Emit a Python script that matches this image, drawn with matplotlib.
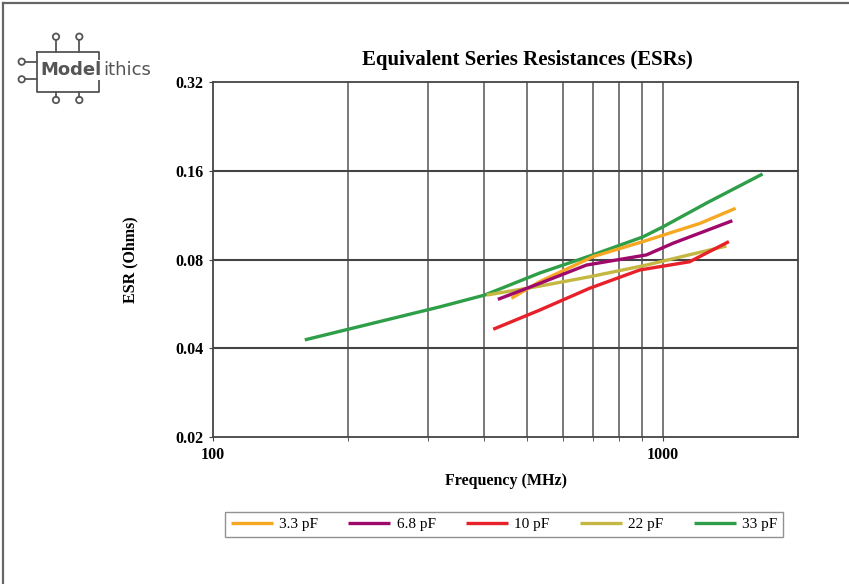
import matplotlib
matplotlib.use("Agg")
import matplotlib.pyplot as plt
from matplotlib.lines import Line2D
from matplotlib.patches import Circle
from matplotlib.ticker import FixedLocator, NullFormatter, NullLocator

# values
freq_33 = [160, 320, 402, 533, 699, 903, 1000, 1253, 1668]
esr_33 = [0.0427, 0.0553, 0.0606, 0.0720, 0.0829, 0.0954, 0.1031, 0.1244, 0.156]

freq_3p3 = [461, 533, 700, 904, 1209, 1453]
esr_3p3 = [0.0591, 0.0673, 0.0818, 0.0920, 0.1060, 0.1193]

freq_6p8 = [430, 533, 677, 920, 1054, 1429]
esr_6p8 = [0.0586, 0.0664, 0.0766, 0.0829, 0.0908, 0.1083]

freq_10 = [420, 533, 688, 889, 1148, 1404]
esr_10 = [0.0464, 0.0539, 0.0639, 0.0737, 0.0786, 0.0920]

freq_22 = [406, 533, 688, 920, 1386]
esr_22 = [0.0606, 0.0650, 0.0699, 0.0766, 0.0889]

series = [
    ("3.3 pF", freq_3p3, esr_3p3, "#F7A823"),
    ("6.8 pF", freq_6p8, esr_6p8, "#A0096C"),
    ("10 pF", freq_10, esr_10, "#E8202A"),
    ("22 pF", freq_22, esr_22, "#C4B842"),
    ("33 pF", freq_33, esr_33, "#2E9E48"),
]
draw_order = ["33 pF", "22 pF", "3.3 pF", "6.8 pF", "10 pF"]

y_ticks = [0.02, 0.04, 0.08, 0.16, 0.32]
x_grid = [200, 300, 400, 500, 600, 700, 800, 900, 1000]

serif = "Liberation Serif"
W, H = 849, 584

fig = plt.figure(figsize=(W / 100, H / 100), dpi=100)


def fx(px):
    return px / W


def fy(py):
    return 1 - py / H


ax = fig.add_axes([fx(213), fy(437), fx(798) - fx(213), fy(82) - fy(437)])
ax.set_xscale("log")
ax.set_yscale("log")
ax.set_xlim(100, 2000)
ax.set_ylim(0.02, 0.32)

handles = {}
for name in draw_order:
    label, f, e, c = [s for s in series if s[0] == name][0]
    (ln,) = ax.plot(f, e, color=c, lw=2.4, solid_capstyle="butt", zorder=3)
    handles[label] = ln

ax.xaxis.set_major_locator(FixedLocator([100, 1000]))
ax.xaxis.set_minor_locator(FixedLocator(x_grid))
ax.xaxis.set_minor_formatter(NullFormatter())
ax.set_xticklabels(["100", "1000"])
ax.yaxis.set_major_locator(FixedLocator(y_ticks))
ax.yaxis.set_minor_locator(NullLocator())
ax.set_yticklabels(["%.2f" % v for v in y_ticks])

for v in x_grid:
    ax.axvline(v, color="#555555", lw=1.1, zorder=1)
for v in y_ticks[1:-1]:
    ax.axhline(v, color="#444444", lw=1.5, zorder=1)

for sp in ax.spines.values():
    sp.set_color("#444444")
    sp.set_linewidth(1.3)

ax.tick_params(axis="both", which="both", direction="out", length=3,
               color="#444444", pad=4)
for lbl in ax.get_xticklabels() + ax.get_yticklabels():
    lbl.set_fontfamily(serif)
    lbl.set_fontweight("bold")
    lbl.set_fontsize(11.5)

fig.text(fx(527), fy(60), "Equivalent Series Resistances (ESRs)", family=serif,
         weight="bold", fontsize=15, ha="center", va="center")
fig.text(fx(506), fy(481), "Frequency (MHz)", family=serif, weight="bold",
         fontsize=11.5, ha="center", va="center")
fig.text(fx(130), fy(260), "ESR (Ohms)", family=serif, weight="bold",
         fontsize=11.5, ha="center", va="center", rotation=90)

leg = fig.legend([handles[s[0]] for s in series], [s[0] for s in series],
                 loc="center", bbox_to_anchor=(fx(504), fy(524.5)), ncol=5,
                 frameon=True, fancybox=False, prop={"family": serif, "size": 11},
                 handlelength=2.75, handletextpad=0.4, columnspacing=2.0,
                 borderpad=0.35)
leg.get_frame().set_edgecolor("#777777")
leg.get_frame().set_linewidth(1.0)

# image border (top and left)
fig.add_artist(Line2D([fx(3), fx(3)], [fy(3), 0], transform=fig.transFigure,
                      color="#666666", lw=1.6))
fig.add_artist(Line2D([fx(3), 1], [fy(3), fy(3)], transform=fig.transFigure,
                      color="#666666", lw=1.6))

# Modelithics logo
logo = "#555555"
box = [(36.7, 51.7), (99, 51.7), (99, 91.7), (36.7, 91.7), (36.7, 51.7)]
fig.add_artist(Line2D([fx(p[0]) for p in box], [fy(p[1]) for p in box],
                      transform=fig.transFigure, color=logo, lw=1.3))
for px in [56, 79.3]:
    fig.add_artist(Line2D([fx(px), fx(px)], [fy(40), fy(51.7)],
                          transform=fig.transFigure, color=logo, lw=1.3))
    fig.add_artist(Line2D([fx(px), fx(px)], [fy(91.7), fy(97)],
                          transform=fig.transFigure, color=logo, lw=1.3))
    for py in [36.7, 100]:
        fig.add_artist(Circle((px, H - py), 3.2, transform=None, fill=True,
                              facecolor="white", edgecolor=logo, lw=1.3))
for py in [61.7, 79.3]:
    fig.add_artist(Line2D([fx(25), fx(36.7)], [fy(py), fy(py)],
                          transform=fig.transFigure, color=logo, lw=1.3))
    fig.add_artist(Circle((21.7, H - py), 3.2, transform=None, fill=True,
                          facecolor="white", edgecolor=logo, lw=1.3))
fig.text(fx(40), fy(70), "Model", family="DejaVu Sans", weight="bold",
         fontsize=13, color=logo, ha="left", va="center",
         bbox=dict(facecolor="white", edgecolor="none", pad=0.5))
fig.text(fx(103), fy(70), "ithics", family="DejaVu Sans", fontsize=13,
         color=logo, ha="left", va="center",
         bbox=dict(facecolor="white", edgecolor="none", pad=1.5))

fig.savefig("out.png", dpi=100)
